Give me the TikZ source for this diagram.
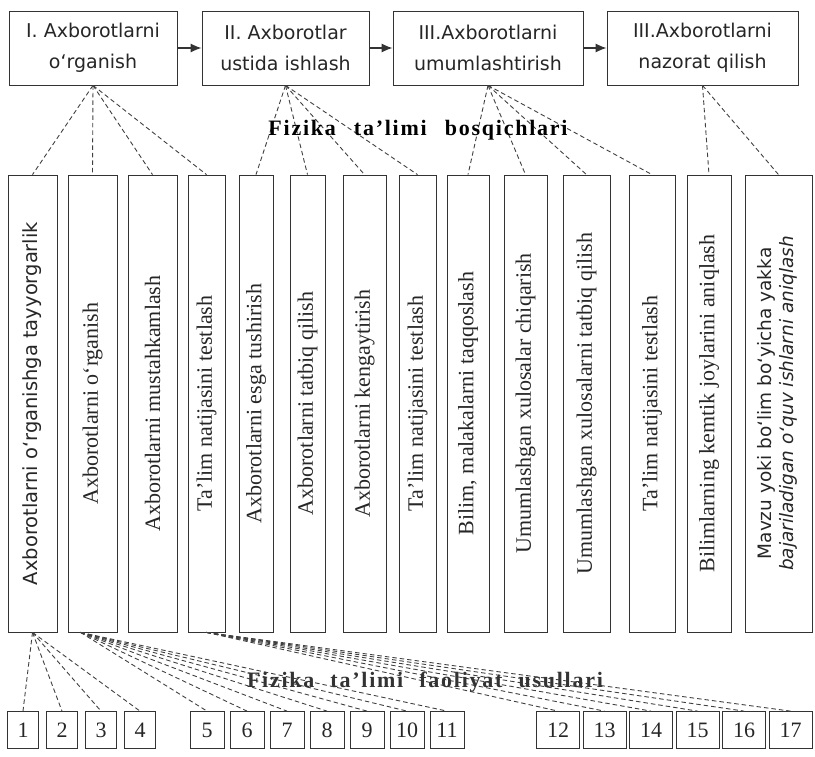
\documentclass[tikz,border=0pt]{standalone}
\usepackage{fontspec}
\usepackage{graphicx}
\setmainfont{Liberation Serif}
\setsansfont{DejaVu Sans}
\usetikzlibrary{positioning,arrows.meta}

\begin{document}
\begin{tikzpicture}[x=1pt,y=-1pt,
    stagenode/.style={rectangle, draw=black!80, line width=0.8pt, inner sep=0pt, align=center, minimum height=74pt, text=black!85, font=\sffamily\fontsize{19}{31}\selectfont},
    stepnode/.style={rectangle, draw=black!80, line width=0.8pt, inner sep=0pt, minimum height=457pt, text=black!85, font=\fontsize{22}{24}\selectfont},
    numnode/.style={rectangle, draw=black!80, line width=0.8pt, inner sep=0pt, minimum height=37pt, text=black!85, font=\fontsize{22}{24}\selectfont},
    dashline/.style={draw=black!75, line width=0.9pt, dash pattern=on 4.5pt off 3pt},
    headlabel/.style={font=\bfseries\fontsize{22}{26}\selectfont\addfontfeatures{LetterSpace=8}},
    ]
    \useasboundingbox (0,0) rectangle (815,757);

    %Stages
    \node[stagenode, minimum width=168pt] (ta) at (93,48)    {I. Axborotlarni\\o‘rganish};
    \node[stagenode, minimum width=167pt] (tb) at (285.5,48) {II. Axborotlar\\ustida ishlash};
    \node[stagenode, minimum width=190pt] (tc) at (488,48)   {III.Axborotlarni\\umumlashtirish};
    \node[stagenode, minimum width=191pt] (td) at (702.5,48) {III.Axborotlarni\\nazorat qilish};

    %Steps
    \node[stepnode, minimum width=49pt] (v1)  at (32.5,403.5)  {\rotatebox{90}{\sffamily\fontsize{19.5}{20}\selectfont Axborotlarni o‘rganishga tayyorgarlik}};
    \node[stepnode, minimum width=49pt] (v2)  at (92.5,403.5)  {\rotatebox{90}{Axborotlarni o‘rganish}};
    \node[stepnode, minimum width=49pt] (v3)  at (152.5,403.5) {\rotatebox{90}{Axborotlarni mustahkamlash}};
    \node[stepnode, minimum width=37pt] (v4)  at (206.5,403.5) {\rotatebox{90}{Ta'lim natijasini testlash}};
    \node[stepnode, minimum width=34pt] (v5)  at (256,403.5)   {\rotatebox{90}{Axborotlarni esga tushirish}};
    \node[stepnode, minimum width=35pt] (v6)  at (307.5,403.5) {\rotatebox{90}{Axborotlarni tatbiq qilish}};
    \node[stepnode, minimum width=43pt] (v7)  at (364.5,403.5) {\rotatebox{90}{Axborotlarni kengaytirish}};
    \node[stepnode, minimum width=37pt] (v8)  at (417.5,403.5) {\rotatebox{90}{Ta'lim natijasini testlash}};
    \node[stepnode, minimum width=42pt] (v9)  at (468,403.5)   {\rotatebox{90}{Bilim, malakalarni taqqoslash}};
    \node[stepnode, minimum width=43pt] (v10) at (525.5,403.5) {\rotatebox{90}{Umumlashgan xulosalar chiqarish}};
    \node[stepnode, minimum width=47pt] (v11) at (586.5,403.5) {\rotatebox{90}{Umumlashgan xulosalarni tatbiq qilish}};
    \node[stepnode, minimum width=46pt] (v12) at (652,403.5)   {\rotatebox{90}{Ta'lim natijasini testlash}};
    \node[stepnode, minimum width=44pt] (v13) at (709,403.5)   {\rotatebox{90}{Bilimlarning kemtik joylarini aniqlash}};
    \node[stepnode, minimum width=67pt] (v14) at (778.5,403.5) {\rotatebox{90}{\sffamily\fontsize{18.5}{22}\selectfont\begin{tabular}{@{}c@{}}Mavzu yoki bo‘lim bo‘yicha yakka\\\itshape bajariladigan o‘quv ishlarni aniqlash\end{tabular}}};

    %Numbers
    \foreach \n/\x in {1/23,2/62,3/101,4/140}
        \node[numnode, minimum width=31pt] (n\n) at (\x,730) {\n};
    \foreach \n/\x in {5/207,6/247,7/287,8/327,9/367,10/407,11/447}
        \node[numnode, minimum width=34pt] (n\n) at (\x,730) {\n};
    \foreach \n/\x in {12/558,13/604.5,14/651,15/697.5,16/744,17/790.5}
        \node[numnode, minimum width=43pt] (n\n) at (\x,730) {\n};

    %Lines
    \draw[-{Latex[length=11pt,width=9pt]}, line width=1.3pt, black!80] (ta.east) -- (tb.west);
    \draw[-{Latex[length=11pt,width=9pt]}, line width=1.3pt, black!80] (tb.east) -- (tc.west);
    \draw[-{Latex[length=11pt,width=9pt]}, line width=1.3pt, black!80] (tc.east) -- (td.west);

    \foreach \v in {v1,v2,v3,v4}
        \draw[dashline] (ta.south) -- (\v.north);
    \foreach \v in {v5,v6,v7,v8}
        \draw[dashline] (tb.south) -- (\v.north);
    \foreach \v in {v9,v10,v11,v12}
        \draw[dashline] (tc.south) -- (\v.north);
    \foreach \v in {v13,v14}
        \draw[dashline] (td.south) -- (\v.north);

    \foreach \n in {1,...,4}
        \draw[dashline] (v1.south) -- (n\n.north);
    \foreach \n in {5,...,11}
        \draw[dashline] ([xshift=-12pt]v2.south) -- (n\n.north);
    \foreach \n in {12,...,17}
        \draw[dashline] (v4.south) -- (n\n.north);

    %Labels
    \node[headlabel] (stages) at (418,130) {Fizika\hspace{18pt}ta'limi\hspace{18pt}bosqichlari};
    \node[headlabel, text=black!80] (kinds) at (425,682) {Fizika\hspace{16pt}ta'limi\hspace{16pt}faoliyat\hspace{16pt}usullari};
\end{tikzpicture}
\end{document}
